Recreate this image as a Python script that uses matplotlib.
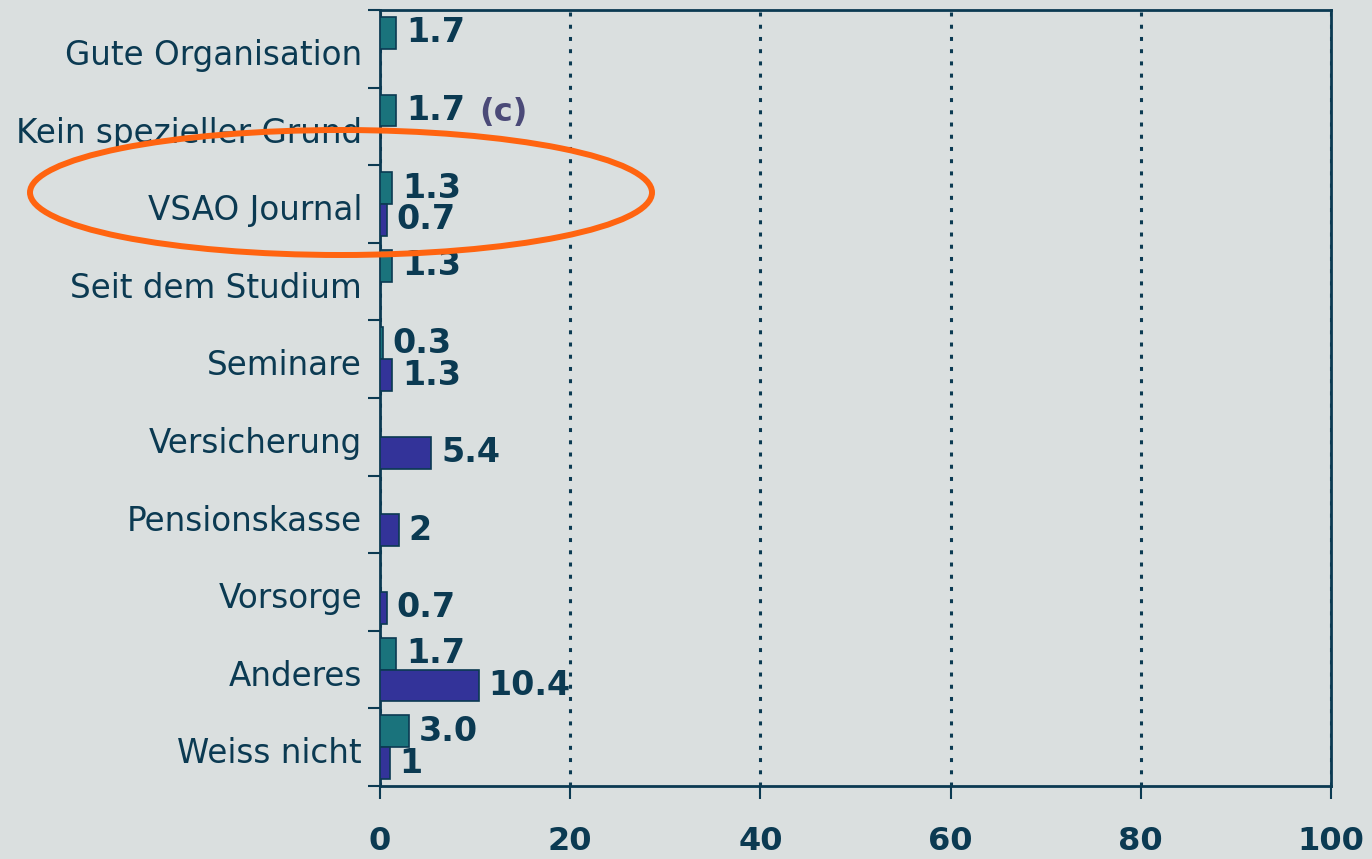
import numpy as np
import matplotlib
matplotlib.use("Agg")
import matplotlib.pyplot as plt
from matplotlib.patches import Ellipse

# ── Daten ────────────────────────────────────────────────────────────────────
kategorien = ["Gute Organisation", "Kein spezieller Grund", "VSAO Journal",
              "Seit dem Studium", "Seminare", "Versicherung", "Pensionskasse",
              "Vorsorge", "Anderes", "Weiss nicht"]

serie_a      = [1.7, 1.7, 1.3, 1.3, 0.3, np.nan, np.nan, np.nan, 1.7, 3.0]
serie_a_txt  = ["1.7", "1.7", "1.3", "1.3", "0.3", "", "", "", "1.7", "3.0"]
serie_b      = [np.nan, np.nan, 0.7, np.nan, 1.3, 5.4, 2, 0.7, 10.4, 1]
serie_b_txt  = ["", "", "0.7", "", "1.3", "5.4", "2", "0.7", "10.4", "1"]

x_ticks = [0, 20, 40, 60, 80, 100]

# ── Farben ───────────────────────────────────────────────────────────────────
BG     = "#dadfdf"
DUNKEL = "#0b3a52"
TEAL   = "#1a737c"
LILA   = "#333399"
ORANGE = "#ff6410"

W, H = 1372, 859
fig = plt.figure(figsize=(W / 100, H / 100), dpi=100, facecolor=BG)
ax = fig.add_axes([380 / W, 1 - 786 / H, (1331 - 380) / W, (786 - 10) / H])
ax.set_facecolor(BG)

y = np.arange(len(kategorien))
h = 0.41
ax.barh(y - h / 2, serie_a, height=h, color=TEAL, edgecolor=DUNKEL, lw=1.2, zorder=3)
ax.barh(y + h / 2, serie_b, height=h, color=LILA, edgecolor=DUNKEL, lw=1.2, zorder=3)

# Wertebeschriftungen
for yi, v, t in zip(y, serie_a, serie_a_txt):
    if t:
        ax.annotate(t, (v, yi - h / 2), xytext=(7, 0), textcoords="offset points",
                    ha="left", va="center", fontsize=24, fontweight="bold",
                    color=DUNKEL, zorder=4)
for yi, v, t in zip(y, serie_b, serie_b_txt):
    if t:
        ax.annotate(t, (v, yi + h / 2), xytext=(7, 0), textcoords="offset points",
                    ha="left", va="center", fontsize=24, fontweight="bold",
                    color=DUNKEL, zorder=4)

ax.text(10.4, 1 - h / 2 + 0.02, "(c)", ha="left", va="center", fontsize=23,
        fontweight="bold", color="#4b4a78", zorder=4)

# Achsen
ax.set_xlim(0, 100)
ax.set_ylim(len(kategorien) - 0.5, -0.5)
ax.set_xticks(x_ticks)
ax.set_xticklabels([str(t) for t in x_ticks], fontsize=23, fontweight="bold", color=DUNKEL)
ax.tick_params(axis="x", direction="out", length=9, width=1.5, color=DUNKEL, pad=20)

ax.set_yticks(y + 0.04)
ax.set_yticklabels(kategorien, fontsize=23.5, color=DUNKEL)
ax.set_yticks(np.arange(-0.5, len(kategorien)), minor=True)
ax.tick_params(axis="y", which="major", length=0, pad=13)
ax.tick_params(axis="y", which="minor", direction="out", length=9, width=1.5, color=DUNKEL)

for s in ax.spines.values():
    s.set_color(DUNKEL)
    s.set_linewidth(2)

ax.xaxis.grid(True, color=DUNKEL, lw=2.2, ls=(0, (1.3, 2.7)), zorder=1)
ax.set_axisbelow(True)

# Markierung
fig.add_artist(Ellipse((341 / W, 1 - 192.5 / H), 622 / W, 125 / H,
                       transform=fig.transFigure, fill=False, edgecolor=ORANGE,
                       lw=4.3, zorder=10))

fig.savefig("out.png", dpi=100, facecolor=BG)
